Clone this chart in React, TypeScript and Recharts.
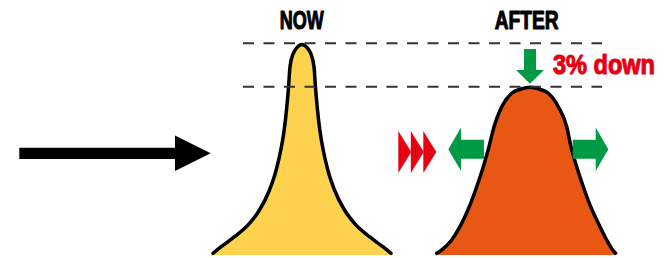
import React from 'react';
import { ComposedChart, Area, XAxis, YAxis, ReferenceLine, ReferenceDot } from 'recharts';

// NOW distribution (sharp peak) — x position, height above baseline
const nowX = [213, 221.2, 234.5, 249.5, 259.5, 269.5, 276.2, 280.8, 284.2, 286.5, 288.4, 290, 293.3, 295.5, 298, 302, 306, 308.5, 310.7, 314, 315.6, 317.5, 319.8, 323.2, 327.8, 334.5, 344.5, 354.5, 369.5, 382.8, 391];
const nowY = [1.7, 8.3, 18.3, 31.7, 45, 65, 85, 105, 125, 145, 166, 188.3, 201.7, 205.5, 208.5, 210.5, 208.5, 205.5, 201.7, 188.3, 166, 145, 125, 105, 85, 65, 45, 31.7, 18.3, 8.3, 1.7];

// AFTER distribution (wider, 3% lower)
const afterX = [436.7, 441.7, 451.7, 460, 469.3, 476.7, 483.3, 489, 494, 501.7, 511.7, 521, 530, 539, 548.3, 558.3, 566.7, 571, 576.7, 583.3, 590.7, 600, 606.7, 612.7, 615.5];
const afterY = [1.7, 5, 15, 28.3, 48.3, 68.3, 88.3, 108.3, 128.3, 148.3, 161.7, 166, 167.7, 166, 161.7, 148.3, 128.3, 108.3, 88.3, 68.3, 48.3, 28.3, 15, 5, 1.7];

// Reference levels (peak heights) and their x extent
const levelY = [211.7, 168.3];
const levelX = [243, 602];

// Labels
const titles = ['NOW', 'AFTER'];
const titleX = [301.7, 526.7];
const titleY = 226;
const changeLabel = '3% down';
const changeX = 553;
const changeY = 181.5;

// Annotation anchors (data coordinates)
const bigArrowTip = { x: 210.7, y: 101.7 };
const chevronX = [398.3, 410.8, 423.3];
const chevronY = 103;
const leftArrowTip = { x: 448.3, y: 105.7 };
const rightArrowTip = { x: 608.3, y: 105.7 };
const downArrowTip = { x: 530, y: 171.3 };

const rows: { x: number; now?: number; after?: number }[] = [
  ...nowX.map((x, i) => ({ x, now: nowY[i] })),
  ...afterX.map((x, i) => ({ x, after: afterY[i] })),
].sort((a, b) => a.x - b.x);

const GREEN = '#009944';
const RED = '#E60012';
const FONT = '"Liberation Sans", Arial, sans-serif';
const SQUEEZE = 0.78;

const pts = (arr: number[][], cx: number, cy: number) =>
  arr.map(([dx, dy]) => `${cx + dx},${cy + dy}`).join(' ');

const BigArrow = (p: any) => (
  <polygon
    fill="#000"
    points={pts([[0, 0], [-35.7, -17.8], [-35.7, -5.6], [-191.4, -5.6], [-191.4, 5.6], [-35.7, 5.6], [-35.7, 17.8]], p.cx, p.cy)}
  />
);
const Chevron = (p: any) => (
  <polygon fill={RED} points={pts([[0, -21], [13, 0], [0, 21]], p.cx, p.cy)} />
);
const LeftArrow = (p: any) => (
  <polygon
    fill={GREEN}
    points={pts([[0, 0], [12.7, -21.7], [12.7, -9.5], [35.7, -9.5], [35.7, 9.5], [12.7, 9.5], [12.7, 21.7]], p.cx, p.cy)}
  />
);
const RightArrow = (p: any) => (
  <polygon
    fill={GREEN}
    points={pts([[0, 0], [-12.6, -21.7], [-12.6, -9.5], [-35.6, -9.5], [-35.6, 9.5], [-12.6, 9.5], [-12.6, 21.7]], p.cx, p.cy)}
  />
);
const DownArrow = (p: any) => (
  <polygon
    fill={GREEN}
    points={pts([[0, 0], [-14, -13.7], [-6, -13.7], [-6, -34.7], [6, -34.7], [6, -13.7], [14, -13.7]], p.cx, p.cy)}
  />
);
const makeText = (txt: string, size: number, len: number, color: string, anchor: 'middle' | 'start') => (p: any) => (
  <g transform={`translate(${p.cx},${p.cy}) scale(${SQUEEZE},1)`}>
    <text
      x={0}
      y={0}
      textAnchor={anchor}
      fontFamily={FONT}
      fontWeight="bold"
      fontSize={size}
      fill={color}
      stroke={color}
      strokeWidth={1.1}
      strokeLinejoin="round"
      textLength={len / SQUEEZE}
      lengthAdjust="spacingAndGlyphs"
    >
      {txt}
    </text>
  </g>
);

export default function App() {
  return (
    <div style={{ position: 'absolute', left: 0, top: 0, width: 672, height: 258, background: '#fff' }}>
      <ComposedChart width={672} height={258} data={rows} margin={{ top: 0, right: 0, bottom: 0, left: 0 }}>
        <XAxis type="number" dataKey="x" domain={[0, 672]} allowDataOverflow hide />
        <YAxis type="number" domain={[-3, 255]} allowDataOverflow hide />
        <Area
          dataKey="now"
          type="monotone"
          stroke="#000"
          strokeWidth={3.5}
          strokeLinecap="round"
          fill="#FCD24F"
          fillOpacity={1}
          baseValue={0}
          dot={false}
          activeDot={false}
          isAnimationActive={false}
        />
        <Area
          dataKey="after"
          type="monotone"
          stroke="#000"
          strokeWidth={3.5}
          strokeLinecap="round"
          fill="#E85814"
          fillOpacity={1}
          baseValue={0}
          dot={false}
          activeDot={false}
          isAnimationActive={false}
        />
        {levelY.map((y) => (
          <ReferenceLine
            key={y}
            segment={[{ x: levelX[0], y }, { x: levelX[1], y }]}
            stroke="#333"
            strokeWidth={2}
            strokeDasharray="11 9.5"
            ifOverflow="visible"
          />
        ))}
        <ReferenceDot x={bigArrowTip.x} y={bigArrowTip.y} shape={BigArrow} ifOverflow="visible" />
        {chevronX.map((x) => (
          <ReferenceDot key={x} x={x} y={chevronY} shape={Chevron} ifOverflow="visible" />
        ))}
        <ReferenceDot x={leftArrowTip.x} y={leftArrowTip.y} shape={LeftArrow} ifOverflow="visible" />
        <ReferenceDot x={rightArrowTip.x} y={rightArrowTip.y} shape={RightArrow} ifOverflow="visible" />
        <ReferenceDot x={downArrowTip.x} y={downArrowTip.y} shape={DownArrow} ifOverflow="visible" />
        <ReferenceDot x={titleX[0]} y={titleY} shape={makeText(titles[0], 25.5, 44, '#000', 'middle')} ifOverflow="visible" />
        <ReferenceDot x={titleX[1]} y={titleY} shape={makeText(titles[1], 25.5, 64, '#000', 'middle')} ifOverflow="visible" />
        <ReferenceDot x={changeX} y={changeY} shape={makeText(changeLabel, 28.5, 102, RED, 'start')} ifOverflow="visible" />
      </ComposedChart>
    </div>
  );
}
